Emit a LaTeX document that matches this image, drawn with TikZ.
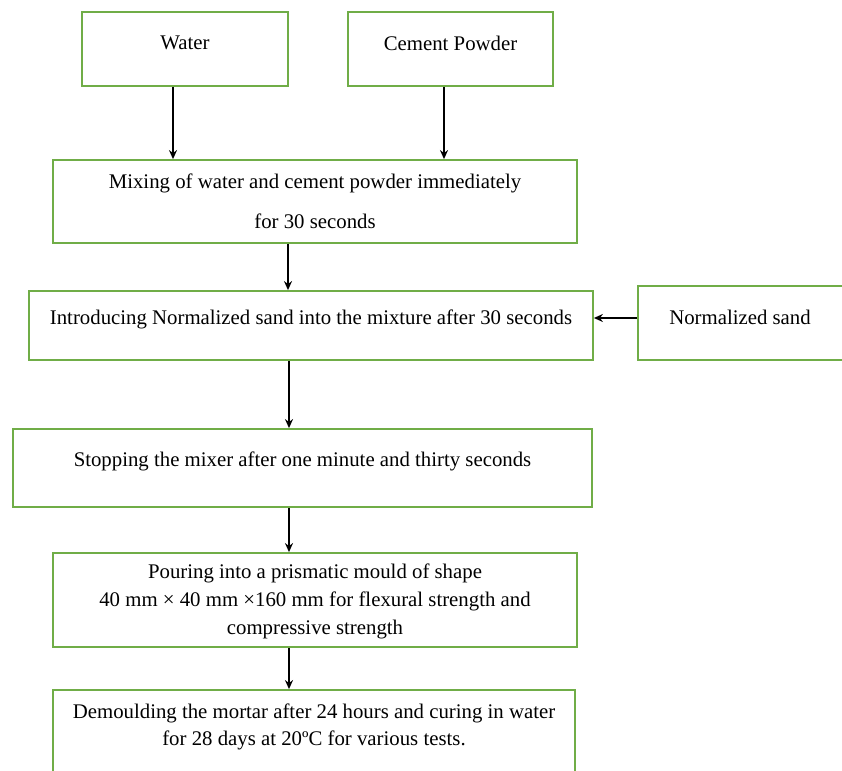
\documentclass[tikz,border=0pt]{standalone}
\usepackage{fontspec}
\setmainfont{Liberation Serif}
\usetikzlibrary{arrows.meta, positioning}
\definecolor{boxgreen}{RGB}{112,173,71}
\tikzset{
    block/.style={rectangle, draw=boxgreen, line width=1.8pt, inner sep=0pt},
    boxtext/.style={align=center, inner sep=0pt, font=\fontsize{20.8}{28}\selectfont},
    arrow/.style={line width=2pt, -{Stealth[length=9pt, width=8pt]}}
}

\begin{document}
\begin{tikzpicture}[x=1pt, y=-1pt]
            \clip (0,0) rectangle (842,770);
            \node[block, minimum width=206pt, minimum height=74pt] (water) at (185,49) {};
            \node[block, minimum width=205pt, minimum height=74pt] (cement) at (450.5,49) {};
            \node[block, minimum width=524pt, minimum height=83pt] (mixing) at (315,201.5) {};
            \node[block, minimum width=564pt, minimum height=69pt] (intro) at (311,325.5) {};
            \node[block, minimum width=214pt, minimum height=74pt] (sand) at (745,323) {};
            \node[block, minimum width=579pt, minimum height=78pt] (stopping) at (302.5,468) {};
            \node[block, minimum width=524pt, minimum height=94pt] (pouring) at (315,600) {};
            \node[block, minimum width=522pt, minimum height=100pt] (demould) at (314,740) {};

            \node[boxtext] (water_text) at (185,43) {Water};
            \node[boxtext] (cement_text) at (450.5,43) {Cement Powder};
            \node[boxtext] (mixing_text) at (315,201) {Mixing of water and cement powder immediately\\[12pt] for 30 seconds};
            \node[boxtext] (intro_text) at (311,319) {Introducing Normalized sand into the mixture after 30 seconds};
            \node[boxtext] (sand_text) at (740,317) {Normalized sand};
            \node[boxtext] (stopping_text) at (302.5,461) {Stopping the mixer after one minute and thirty seconds};
            \node[boxtext] (pouring_text) at (315,601) {Pouring into a prismatic mould of shape\\ 40 mm × 40 mm ×160 mm for flexural strength and\\ compressive strength};
            \node[boxtext, font=\fontsize{20.8}{27}\selectfont] (demould_text) at (314,726.5) {Demoulding the mortar after 24 hours and curing in water\\ for 28 days at 20ºC for various tests.};

            \coordinate (water_out) at ([xshift=-12pt]water.south);
            \coordinate (cement_out) at ([xshift=-6.5pt]cement.south);
            \coordinate (mixing_out) at ([xshift=-27pt]mixing.south);
            \coordinate (intro_out) at ([xshift=-22pt]intro.south);
            \coordinate (stopping_out) at ([xshift=-13.5pt]stopping.south);
            \coordinate (pouring_out) at ([xshift=-26pt]pouring.south);
            \coordinate (sand_out) at ([yshift=5pt]sand.west);

            \draw[arrow] (water_out) -- (water_out |- mixing.north);
            \draw[arrow] (cement_out) -- (cement_out |- mixing.north);
            \draw[arrow] (mixing_out) -- (mixing_out |- intro.north);
            \draw[arrow] (sand_out) -- (sand_out -| intro.east);
            \draw[arrow] (intro_out) -- (intro_out |- stopping.north);
            \draw[arrow] (stopping_out) -- (stopping_out |- pouring.north);
            \draw[arrow] (pouring_out) -- (pouring_out |- demould.north);
        \end{tikzpicture}
\end{document}
